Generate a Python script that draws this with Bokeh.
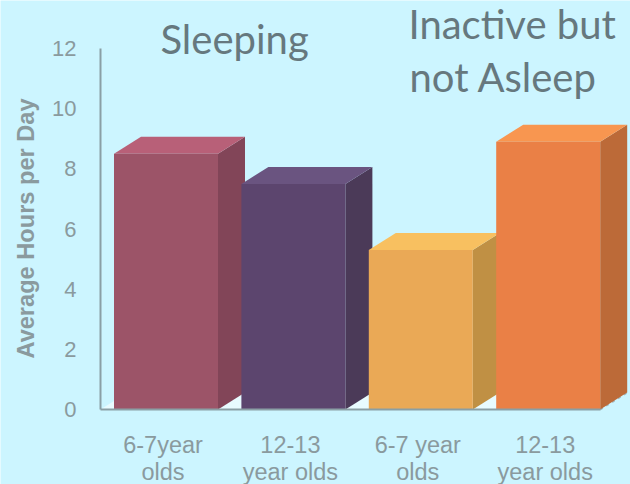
from math import pi
from bokeh.plotting import figure
from bokeh.models import Range1d, Label, FixedTicker
from bokeh.embed import file_html
from bokeh.resources import INLINE

categories = ["6-7year\nolds", "12-13\nyear olds", "6-7 year\nolds", "12-13\nyear olds"]
hours = [8.5, 7.5, 5.3, 8.9]
front_colors = ["#9c5468", "#5c456e", "#eaa956", "#ea8046"]
top_colors = ["#b86078", "#6a5480", "#f8c060", "#f89650"]
side_colors = ["#824558", "#4b3a58", "#c09044", "#bc6a38"]
y_ticks = [0, 2, 4, 6, 8, 10, 12]

BG = "#ccf5ff"
AXIS = "#8a9fa5"
TEXT = "#8a9a9e"
TITLE = "#66787e"

PX_X = 127.4
PX_Y = 30.08
C0 = 165.5
BW = 104 / PX_X
DX = 27 / PX_X
DY = 17 / PX_Y

W, H = 630, 484
LEFT = 100
ZERO = 409

def dx(px):
    return (px - C0) / PX_X

def dy(py):
    return (ZERO - py) / PX_Y

p = figure(width=W, height=H, output_backend="svg", toolbar_location=None,
           min_border_left=0, min_border_right=0, min_border_top=0, min_border_bottom=0,
           background_fill_color=BG, border_fill_color=BG, outline_line_color=None)
p.x_range = Range1d(dx(0), dx(W))
p.y_range = Range1d(dy(H), dy(0))
p.grid.visible = False

# floor of the 3D box
xl = dx(LEFT)
xr = len(hours) - 1 + BW / 2
p.patch([xl, xl + DX, xr + DX, xr], [0, DY, DY, 0], fill_color="#e8fbff", line_color=None)
p.line([xr, xr + DX], [0, DY], line_color="#9fb8c0", line_width=2, line_dash="3 4")

for i, v in enumerate(hours):
    x0, x1 = i - BW / 2, i + BW / 2
    p.patch([x1, x1 + DX, x1 + DX, x1], [0, DY, v + DY, v], fill_color=side_colors[i], line_color=None)
    p.patch([x0, x0 + DX, x1 + DX, x1], [v, v + DY, v + DY, v], fill_color=top_colors[i], line_color=None)
    p.quad(left=x0, right=x1, bottom=0, top=v, fill_color=front_colors[i], line_color=None)

xa = p.xaxis[0]
xa.fixed_location = 0
xa.ticker = FixedTicker(ticks=[])
xa.major_tick_line_color = None
xa.minor_tick_line_color = None
xa.axis_line_color = AXIS
xa.axis_line_width = 2
xa.bounds = (xl, xr)

ya = p.yaxis[0]
ya.fixed_location = xl
ya.ticker = FixedTicker(ticks=y_ticks)
ya.bounds = (0, 12)
ya.major_tick_line_color = None
ya.minor_tick_line_color = None
ya.axis_line_color = AXIS
ya.axis_line_width = 2
ya.major_label_text_color = TEXT
ya.major_label_text_font = "Liberation Sans"
ya.major_label_text_font_size = "22px"
ya.major_label_standoff = 18

p.add_layout(Label(x=dx(25), y=dy(228), text="Average Hours per Day", angle=pi / 2,
                   text_color=TEXT, text_font="Liberation Sans", text_font_style="bold",
                   text_font_size="23.6px", text_align="center", text_baseline="middle"))

for i, c in enumerate(categories):
    p.add_layout(Label(x=i - 3 / PX_X, y=dy(431), text=c,
                       text_color=TEXT, text_font="Liberation Sans", text_font_size="23.5px",
                       text_align="center", text_baseline="top", text_line_height=1.05))

def title(t, page_x, page_y):
    p.add_layout(Label(x=dx(page_x), y=dy(page_y), text=t,
                       text_color=TITLE, text_font="Lato", text_font_size="40px",
                       text_baseline="alphabetic"))

title("Sleeping", 160, 38)
title("Inactive but", 408, 23)
title("not Asleep", 409, 76)

open("out.html", "w").write(file_html(p, INLINE, title="Chart"))
